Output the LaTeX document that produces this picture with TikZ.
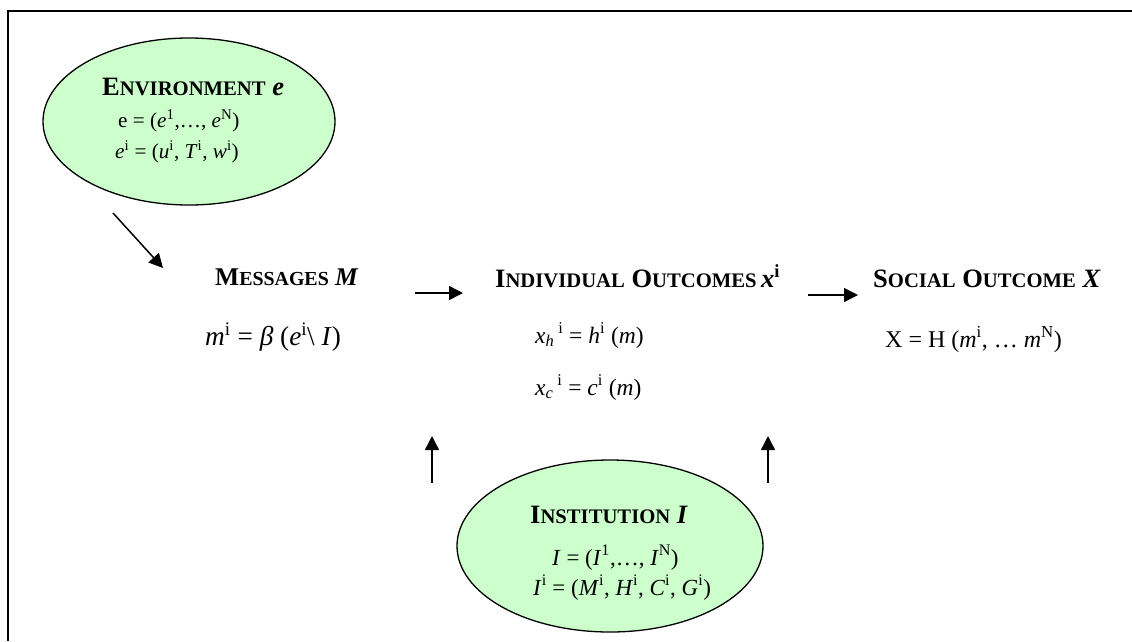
\documentclass[tikz,border=0pt]{standalone}
\usepackage{fontspec}
\setmainfont{Liberation Serif}
\usetikzlibrary{arrows.meta,shapes.geometric}
\definecolor{egreen}{HTML}{CCFFCC}
\newcommand\tsz{\fontsize{26.5}{30}\selectfont\bfseries}
\newcommand\tszm{\fontsize{25.5}{29}\selectfont\bfseries}
\newcommand\scs{\fontsize{0.78\dimexpr\csname f@size\endcsname pt\relax}{18}\selectfont}
\newcommand\fsc[2]{#1{\scs #2}}
\newcommand\myup[1]{\textsuperscript{#1}}
\newcommand\mydn[1]{\textsubscript{#1}}
\tikzset{
  title/.style={anchor=base west,inner sep=0pt,font=\tsz},
  body/.style={anchor=base west,inner sep=0pt},
  blob/.style={draw=black,line width=1.3pt,fill=egreen,ellipse,inner sep=0pt},
  arr/.style={line width=1.5pt,-{Triangle[length=14pt,width=14pt]}},
  frame/.style={line width=2pt}
}
\begin{document}
\begin{tikzpicture}[x=1pt,y=-1pt]
\useasboundingbox (0,0) rectangle (1132,641);
% frame
\coordinate (ftr) at (1132,11);
\coordinate (ftl) at (8,11);
\coordinate (fbl) at (8,641);
\draw[frame] (ftr) -- (ftl) -- (fbl);
% ellipses
\node[blob,minimum width=292pt,minimum height=167pt] (envshape) at (189,121.5) {};
\node[blob,minimum width=306pt,minimum height=172pt] (instshape) at (610,546) {};
% environment text
\node[title] (envt) at (102,95) {\fsc{E}{NVIRONMENT} \textit{e}};
\node[body,font=\fontsize{21.2}{24}\selectfont] (enve1) at (118,127) {e = (\textit{e}\myup{1},…, \textit{e}\myup{N})};
\node[body,font=\fontsize{21.2}{24}\selectfont] (enve2) at (115,158) {\textit{e}\myup{i} = (\textit{u}\myup{i}, \textit{T}\myup{i}, \textit{w}\myup{i})};
% messages
\node[title,font=\tszm] (msgt) at (215,285) {\fsc{M}{ESSAGES} \textit{M}};
\node[body,font=\fontsize{27.3}{30}\selectfont] (msge) at (205,345) {\textit{m}\myup{i} = \textit{β} (\textit{e}\myup{i}\textbackslash\ \textit{I})};
% individual outcomes
\node[title] (indt) at (495,287) {\fsc{I}{NDIVIDUAL} \fsc{O}{UTCOMES}\,\textit{x}\myup{i}};
\node[body,font=\fontsize{23.5}{27}\selectfont] (inde1) at (535,343) {\textit{x}\mydn{\textit{h}}\,\myup{i} = \textit{h}\myup{i} (\textit{m})};
\node[body,font=\fontsize{23.5}{27}\selectfont] (inde2) at (535,395) {\textit{x}\mydn{\textit{c}}\,\myup{i} = \textit{c}\myup{i} (\textit{m})};
% social outcome
\node[title] (soct) at (873,287) {\fsc{S}{OCIAL} \fsc{O}{UTCOME} \textit{X}};
\node[body,font=\fontsize{24}{27}\selectfont] (soce) at (885,347) {X = H (\textit{m}\myup{i}, … \textit{m}\myup{N})};
% institution
\node[title] (instt) at (530,523) {\fsc{I}{NSTITUTION} \textit{I}};
\node[body,font=\fontsize{23}{26}\selectfont] (inste1) at (552,565) {\textit{I} = (\textit{I}\myup{1},…, \textit{I}\myup{N})};
\node[body,font=\fontsize{23}{26}\selectfont] (inste2) at (533,595) {\textit{I}\myup{i} = (\textit{M}\myup{i}, \textit{H}\myup{i}, \textit{C}\myup{i}, \textit{G}\myup{i})};
% arrows
\coordinate (a1s) at (113,213); \coordinate (a1e) at (163,268);
\coordinate (a2s) at (415,293); \coordinate (a2e) at (463,293);
\coordinate (a3s) at (808,295); \coordinate (a3e) at (858,295);
\coordinate (a4s) at (432,483); \coordinate (a4e) at (432,436);
\coordinate (a5s) at (768,483); \coordinate (a5e) at (768,436);
\draw[arr] (a1s) -- (a1e);
\draw[arr] (a2s) -- (a2e);
\draw[arr] (a3s) -- (a3e);
\draw[arr] (a4s) -- (a4e);
\draw[arr] (a5s) -- (a5e);
\end{tikzpicture}
\end{document}
